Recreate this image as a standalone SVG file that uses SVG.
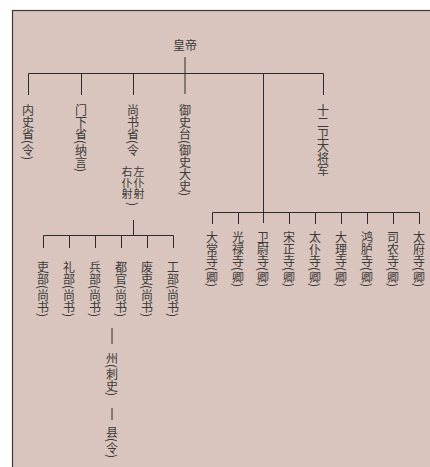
<svg xmlns="http://www.w3.org/2000/svg" width="430" height="467" viewBox="0 0 430 467">
<style>
.v{font-family:"Noto Sans CJK SC","Noto Sans",sans-serif;font-size:12px;fill:#3a3a3a;writing-mode:vertical-rl;}
.vs{font-family:"Noto Sans CJK SC","Noto Sans",sans-serif;font-size:11px;fill:#3a3a3a;writing-mode:vertical-rl;}
.h{font-family:"Noto Sans CJK SC","Noto Sans",sans-serif;font-size:12px;fill:#3a3a3a;text-anchor:middle;}
.ln{stroke:#2b2b2b;stroke-width:1;fill:none;}
</style>
<rect x="0" y="0" width="430" height="467" fill="#ffffff"/>
<rect x="12.5" y="10.5" width="430" height="470" fill="#d9c5bd" stroke="#3a3a3a" stroke-width="1.2"/>
<g id="connectors">
<path class="ln" d="M185,57 V94"/>
<path class="ln" d="M28.5,73.5 H323.5"/>
<path class="ln" d="M28.5,73.5 V95 M81.5,73.5 V95 M133.5,73.5 V95 M263.5,73.5 V223 M323.5,73.5 V95"/>
<path class="ln" d="M133.5,220 V235.5 M43.5,235.5 H173.5 M43.5,235.5 V248 M69.5,235.5 V248 M95.5,235.5 V248 M121.5,235.5 V248 M147.5,235.5 V248 M173.5,235.5 V248"/>
<path class="ln" d="M112,328 V344 M112,408 V420"/>
<path class="ln" d="M212.5,212.5 H419.5 M212.5,212.5 V224 M238.5,212.5 V224 M289.5,212.5 V224 M315.5,212.5 V224 M341.5,212.5 V224 M367.5,212.5 V224 M393.5,212.5 V224 M419.5,212.5 V224"/>
</g>
<g id="n-huangdi"><text class="h" x="185" y="50">皇帝</text></g>
<g id="n-neishi"><text class="v" x="28" y="104">内史省(令)</text></g>
<g id="n-menxia"><text class="v" x="81" y="104">门下省(纳言)</text></g>
<g id="n-shangshu">
<text class="v" x="133" y="104">尚书省(令</text>
<text class="vs" x="139" y="166">左仆射</text>
<text class="vs" x="127" y="166">右仆射</text>
<text class="v" x="133" y="202">)</text>
</g>
<g id="n-yushi"><text class="v" x="185" y="104">御史台(御史大史)</text></g>
<g id="n-shierwei"><text class="v" x="323" y="104">十二卫大将军</text></g>
<g id="n-libu"><text class="v" x="43" y="261">吏部(尚书)</text></g>
<g id="n-libu2"><text class="v" x="69" y="261">礼部(尚书)</text></g>
<g id="n-bingbu"><text class="v" x="95" y="261">兵部(尚书)</text></g>
<g id="n-duguan"><text class="v" x="121" y="261">都官(尚书)</text></g>
<g id="n-duzhi"><text class="v" x="147" y="261">废吏(尚书)</text></g>
<g id="n-gongbu"><text class="v" x="173" y="261">工部(尚书)</text></g>
<g id="n-zhou"><text class="v" x="112" y="352">州(刺史)</text></g>
<g id="n-xian"><text class="v" x="112" y="426">县(令)</text></g>
<g id="n-taichang"><text class="v" x="212" y="231">大常寺(卿)</text></g>
<g id="n-guanglu"><text class="v" x="238" y="231">光禄寺(卿)</text></g>
<g id="n-weiwei"><text class="v" x="263" y="231">卫尉寺(卿)</text></g>
<g id="n-zongzheng"><text class="v" x="289" y="231">宋正寺(卿)</text></g>
<g id="n-taipu"><text class="v" x="315" y="231">太仆寺(卿)</text></g>
<g id="n-dali"><text class="v" x="341" y="231">大理寺(卿)</text></g>
<g id="n-honglu"><text class="v" x="367" y="231">鸿胪寺(卿)</text></g>
<g id="n-sinong"><text class="v" x="393" y="231">司农寺(卿)</text></g>
<g id="n-taifu"><text class="v" x="419" y="231">太府寺(卿)</text></g>
</svg>
